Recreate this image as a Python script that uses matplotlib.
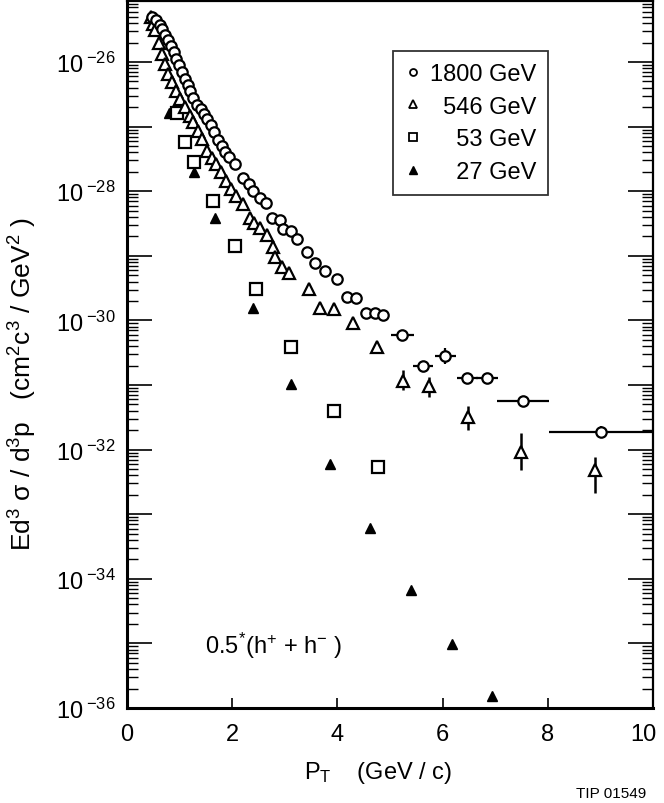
import numpy as np
import matplotlib.pyplot as plt
import matplotlib.transforms as mtransforms
from matplotlib.ticker import LogLocator, FuncFormatter, NullFormatter
from matplotlib.lines import Line2D

plt.rcParams['font.family'] = ['Liberation Sans', 'DejaVu Sans']
plt.rcParams['mathtext.fontset'] = 'custom'
plt.rcParams['mathtext.rm'] = 'Liberation Sans'
plt.rcParams['mathtext.it'] = 'Liberation Sans:italic'
plt.rcParams['mathtext.bf'] = 'Liberation Sans:bold'
plt.rcParams['mathtext.sf'] = 'Liberation Sans'

###############################################################################
# 1800 GeV (open circles)
pt_1800 = [0.47, 0.55, 0.62, 0.67, 0.72, 0.78, 0.84, 0.89, 0.94, 0.99, 1.05, 1.10,
           1.15, 1.20, 1.26, 1.33, 1.40, 1.46, 1.52, 1.59, 1.66, 1.73, 1.80, 1.87,
           1.94, 2.05, 2.21, 2.31, 2.40, 2.53, 2.64, 2.75, 2.90, 2.96, 3.11, 3.24,
           3.42, 3.57, 3.76, 4.00, 4.18, 4.35, 4.54, 4.71, 4.87]
y_1800 = [4.9e-26, 4.4e-26, 3.8e-26, 3.2e-26, 2.6e-26, 2.2e-26, 1.78e-26, 1.41e-26,
          1.12e-26, 8.9e-27, 7.1e-27, 5.5e-27, 4.4e-27, 3.5e-27, 2.8e-27, 2.2e-27,
          1.86e-27, 1.55e-27, 1.29e-27, 1.05e-27, 8.3e-28, 6.3e-28, 5.0e-28, 4.1e-28,
          3.4e-28, 2.6e-28, 1.58e-28, 1.29e-28, 1.0e-28, 7.8e-29, 6.5e-29, 3.9e-29,
          3.6e-29, 2.6e-29, 2.4e-29, 1.8e-29, 1.15e-29, 7.8e-30, 5.8e-30, 4.4e-30,
          2.3e-30, 2.2e-30, 1.3e-30, 1.3e-30, 1.2e-30]
pt_1800_hi = [5.23, 5.62, 6.05, 6.47, 6.85, 7.53, 9.02]
y_1800_hi = [5.9e-31, 1.95e-31, 2.8e-31, 1.29e-31, 1.29e-31, 5.6e-32, 1.9e-32]
xerr_1800_hi = [0.22, 0.19, 0.20, 0.20, 0.21, 0.50, 1.00]
yerr_1800_hi = [0.03, 0.08, 0.12, 0.08, 0.08, 0.08, 0.08]   # decades

# 546 GeV (open triangles)
pt_546 = [0.45, 0.50, 0.53, 0.60, 0.66, 0.72, 0.77, 0.85, 0.93, 1.01, 1.10, 1.20,
          1.26, 1.34, 1.42, 1.52, 1.61, 1.69, 1.78, 1.88, 1.98, 2.07, 2.20, 2.33,
          2.42, 2.53, 2.66, 2.77, 2.81, 2.94, 3.08, 3.45, 3.67, 3.94, 4.30, 4.75]
y_546 = [5.0e-26, 3.9e-26, 3.1e-26, 2.0e-26, 1.32e-26, 9.3e-27, 6.5e-27, 4.9e-27,
         3.6e-27, 2.7e-27, 2.0e-27, 1.48e-27, 1.17e-27, 8.5e-28, 6.5e-28, 4.2e-28,
         3.3e-28, 2.6e-28, 1.95e-28, 1.45e-28, 1.07e-28, 8.5e-29, 6.3e-29, 3.9e-29,
         3.2e-29, 2.7e-29, 2.1e-29, 1.35e-29, 9.5e-30, 6.6e-30, 5.5e-30, 3.1e-30,
         1.58e-30, 1.52e-30, 9.1e-31, 3.9e-31]
pt_546_hi = [5.25, 5.75, 6.49, 7.49, 8.90]
y_546_hi = [1.17e-31, 9.5e-32, 3.2e-32, 9.3e-33, 4.9e-33]
yerr_546_up = [0.17, 0.14, 0.17, 0.29, 0.19]   # decades
yerr_546_dn = [0.14, 0.16, 0.20, 0.28, 0.36]

# 53 GeV (open squares)
pt_53 = [0.95, 1.10, 1.28, 1.64, 2.05, 2.45, 3.12, 3.94, 4.78]
y_53 = [1.62e-27, 5.8e-28, 2.8e-28, 7.1e-29, 1.41e-29, 3.1e-30, 3.9e-31, 3.9e-32, 5.3e-33]

# 27 GeV (filled triangles)
pt_27 = [0.79, 1.28, 1.67, 2.39, 3.12, 3.86, 4.62, 5.40, 6.17, 6.93]
y_27 = [1.62e-27, 2.0e-28, 3.8e-29, 1.58e-30, 1.02e-31, 6.0e-33, 6.2e-34, 6.8e-35,
        9.8e-36, 1.55e-36]

###############################################################################

fig = plt.figure(figsize=(6.64, 8.04), dpi=100)
ax = fig.add_axes([0.1913, 0.1182, 0.7922, 0.8794])

ax.plot(pt_27, y_27, ls='none', marker='^', ms=7.5, color='k', zorder=3)
ax.plot(pt_53, y_53, ls='none', marker='s', ms=8, mfc='white', mec='k', mew=1.6, zorder=4)

ax.plot(pt_546, y_546, ls='none', marker='^', ms=8, mfc='white', mec='k', mew=1.6, zorder=5)
y = np.array(y_546_hi)
yerr = [y*(1-10**-np.array(yerr_546_dn)), y*(10**np.array(yerr_546_up)-1)]
ax.errorbar(pt_546_hi, y, yerr=yerr, fmt='^', ms=8, mfc='white', mec='k', mew=1.6,
            ecolor='k', elinewidth=1.8, capsize=0, zorder=5)

ax.plot(pt_1800, y_1800, ls='none', marker='o', ms=7.5, mfc='white', mec='k', mew=1.6, zorder=6)
y = np.array(y_1800_hi)
d = np.array(yerr_1800_hi)
yerr = [y*(1-10**-d), y*(10**d-1)]
ax.errorbar(pt_1800_hi, y, xerr=xerr_1800_hi, yerr=yerr, fmt='o', ms=7.5, mfc='white',
            mec='k', mew=1.6, ecolor='k', elinewidth=1.6, capsize=0, zorder=6)

ax.set_yscale('log')
ax.set_xlim(0, 10)
ax.set_ylim(1e-36, 8.83e-26)

ax.set_xticks([0, 2, 4, 6, 8, 10])
ax.yaxis.set_major_locator(LogLocator(base=10, numticks=30))
ax.yaxis.set_minor_locator(LogLocator(base=10, subs=np.arange(2, 10), numticks=300))
ax.yaxis.set_minor_formatter(NullFormatter())

def ylab(v, pos):
    e = int(round(np.log10(v)))
    if e % 2 or e > -26:
        return ''
    return r'$\mathrm{10}^{\;\mathrm{%d}}$' % e
ax.yaxis.set_major_formatter(FuncFormatter(ylab))

ax.tick_params(axis='x', which='major', direction='in', length=7, width=1.2,
               labelsize=17, pad=11, top=False)
ax.tick_params(axis='y', which='major', direction='in', length=18, width=1.2,
               labelsize=17, pad=8, right=True)
ax.tick_params(axis='y', which='minor', direction='in', length=8, width=1.0, right=True)
for s in ['left', 'bottom']:
    ax.spines[s].set_linewidth(2.2)
for s in ['top', 'right']:
    ax.spines[s].set_linewidth(1.6)

# last x label sits against the figure edge
lbl = ax.get_xticklabels()[-1]
lbl.set_transform(lbl.get_transform() +
                  mtransforms.ScaledTranslation(-10/100, 0, fig.dpi_scale_trans))

ax.set_xlabel(r'$\mathrm{P}_{\mathrm{T}}$    (GeV / c)', fontsize=17)
ax.xaxis.set_label_coords(0.477, -0.072)
ax.set_ylabel(r'Ed$^{3}$ $\mathrm{\sigma}$ / d$^{3}$p   (cm$^{2}$c$^{3}$ / GeV$^{2}$ )',
              fontsize=19)
ax.yaxis.set_label_coords(-0.168, 0.46)

ax.text(1.48, 10**-35.02, r'0.5$^{*}$(h$^{+}$ + h$^{-}$ )', fontsize=17, va='center')

handles = [
    Line2D([], [], ls='none', marker='o', ms=5, mfc='white', mec='k', mew=1.3),
    Line2D([], [], ls='none', marker='^', ms=5.5, mfc='white', mec='k', mew=1.3),
    Line2D([], [], ls='none', marker='s', ms=6, mfc='white', mec='k', mew=1.3),
    Line2D([], [], ls='none', marker='^', ms=6, color='k'),
]
labels = ['1800 GeV', '\u2007546 GeV', '\u2007\u200753 GeV', '\u2007\u200727 GeV']
leg = ax.legend(handles, labels, loc='upper left', bbox_to_anchor=(0.506, 0.929),
                fontsize=17, frameon=True, fancybox=False, edgecolor='k',
                handlelength=0.7, handletextpad=0.35, labelspacing=0.45,
                borderpad=0.5, borderaxespad=0)
leg.get_frame().set_linewidth(1.3)

fig.text(0.868, 0.004, 'TIP 01549', fontsize=11, va='bottom')

plt.savefig('out.png', dpi=100)
